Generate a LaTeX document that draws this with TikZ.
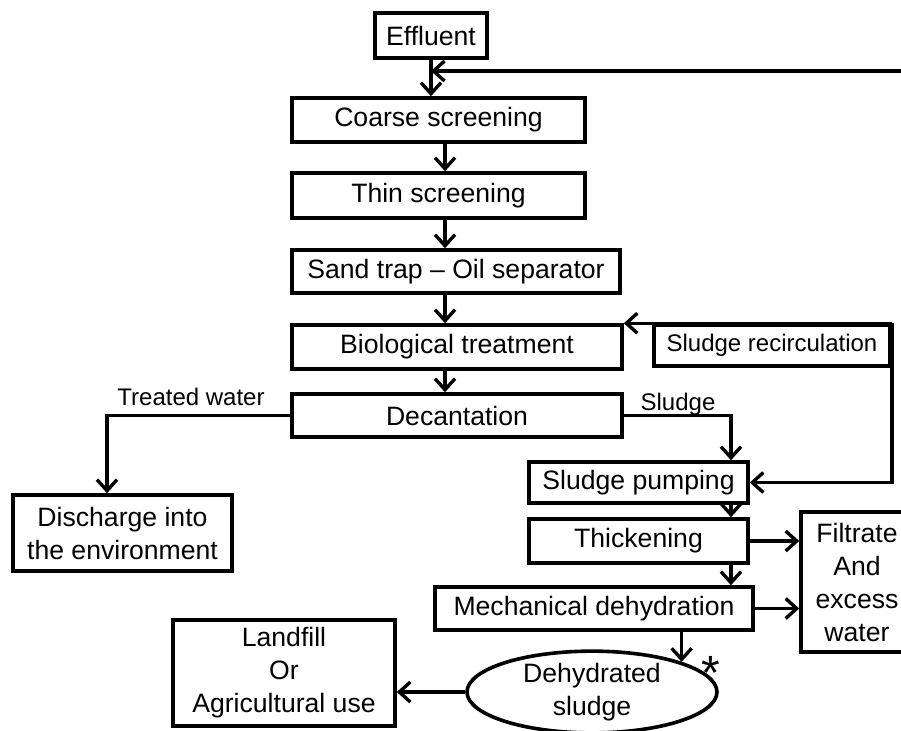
\documentclass[tikz,border=0pt]{standalone}
\usepackage{fontspec}
\setmainfont{Liberation Sans}
\usetikzlibrary{arrows.meta,shapes.geometric}
\begin{document}
\begin{tikzpicture}[x=0.5pt,y=-0.5pt,
    box/.style={draw, line width=1.8pt, inner sep=0pt, align=center, font=\fontsize{13.3}{16.5}\selectfont},
    lbl/.style={inner sep=0pt, font=\fontsize{12}{14}\selectfont},
    flow/.style={line width=1.7pt, -{Straight Barb[length=5.5pt,width=10pt]}}]
    \useasboundingbox (0,0) rectangle (901,730);
    % Water line
    \node[box, minimum width=56pt, minimum height=22.5pt] (eff) at (431,35.5) {Effluent};
    \node[box, minimum width=146.5pt, minimum height=22pt] (coarse) at (438.5,120) {Coarse screening};
    \node[box, minimum width=146.5pt, minimum height=22.5pt] (thin) at (438.5,195.5) {Thin screening};
    \node[box, minimum width=164pt, minimum height=21.5pt] (sand) at (456,271.5) {Sand trap – Oil separator};
    \node[box, minimum width=165pt, minimum height=22pt] (bio) at (457,347) {Biological treatment};
    \node[box, minimum width=165pt, minimum height=21.5pt] (dec) at (457,415.5) {Decantation};
    \node[box, minimum width=109.5pt, minimum height=38pt] (dis) at (122.5,533) {Discharge into\\the environment};
    % Sludge line
    \node[box, lbl, minimum width=118pt, minimum height=20.5pt] (recirc) at (772,345.5) {Sludge recirculation};
    \node[box, minimum width=109.5pt, minimum height=20.5pt] (pump) at (638.5,482.5) {Sludge pumping};
    \node[box, minimum width=109.5pt, minimum height=22pt] (thick) at (638.5,541) {Thickening};
    \node[box, minimum width=159pt, minimum height=21.5pt] (mech) at (594,608.5) {Mechanical dehydration};
    \node[box, minimum width=56pt, minimum height=70pt] (filt) at (857,582) {Filtrate\\And\\excess\\water};
    \node[box, ellipse, minimum width=125pt, minimum height=37pt] (ell) at (592,692) {Dehydrated\\sludge};
    \node[inner sep=0pt, anchor=north, font=\fontsize{24}{24}\selectfont] (star) at (711,656) {*};
    \node[box, minimum width=111pt, minimum height=53pt] (land) at (284,673) {Landfill\\Or\\Agricultural use};
    % Labels
    \node[lbl] (tw) at (191,397) {Treated water};
    \node[lbl] (sl) at (678,404) {Sludge};
    % Arrows
    \coordinate (ax) at (445,0);
    \coordinate (sx) at (731,0);
    \coordinate (dx) at (107,0);
    \coordinate (ret) at (903,71);
    \draw[flow] (eff.south) -- (eff.south |- coarse.north);
    \draw[flow] (ret) -- (ret -| eff.south);
    \draw[flow] (ax |- coarse.south) -- (ax |- thin.north);
    \draw[flow] (ax |- thin.south) -- (ax |- sand.north);
    \draw[flow] (ax |- sand.south) -- (ax |- bio.north);
    \draw[flow] (ax |- bio.south) -- (ax |- dec.north);
    \draw[flow] (dec.west) -| (dx |- dis.north);
    \draw[flow] (dec.east) -| (sx |- pump.north);
    \draw[flow] (recirc.north east) -- (bio.north east);
    \draw[flow] (recirc.north east) |- (pump.east);
    \draw[flow] (sx |- pump.south) -- (sx |- thick.north);
    \draw[flow] (sx |- thick.south) -- (sx |- mech.north);
    \draw[flow] (thick.east) -- (thick.east -| filt.west);
    \draw[flow] (mech.east) -- (mech.east -| filt.west);
    \draw[flow] (mech.south -| ell.north east) -- (ell.north east);
    \draw[flow] (ell.west) -- (ell.west -| land.east);
\end{tikzpicture}
\end{document}
